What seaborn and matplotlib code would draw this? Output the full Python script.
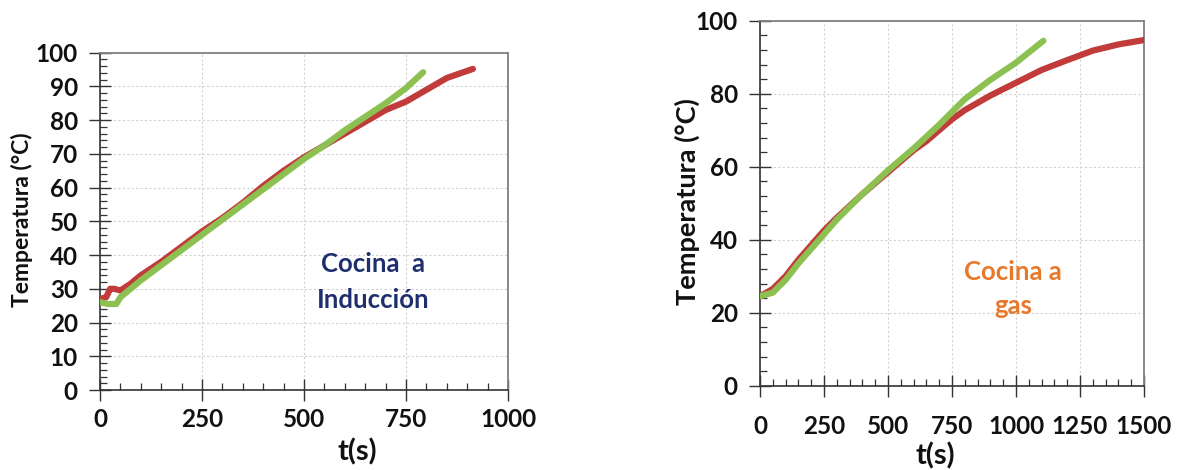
import numpy as np
import pandas as pd
import matplotlib
matplotlib.use("Agg")
import matplotlib.pyplot as plt
import seaborn as sns
from matplotlib.ticker import MultipleLocator

# ---- Data: Cocina a Inducción ----
ind_red_t = [0, 15, 25, 35, 50, 75, 100, 150, 200, 250, 300, 350, 400, 450, 500, 550, 600, 650, 700, 750, 800, 850, 914]
ind_red_T = [27, 27.5, 30, 30, 29.5, 31.5, 34, 38, 42.5, 47, 51, 55.5, 60.5, 65, 69, 72.5, 76, 79.5, 83, 85.5, 89, 92.5, 95.2]
ind_grn_t = [0, 20, 40, 50, 75, 100, 150, 200, 250, 300, 350, 400, 450, 500, 550, 600, 650, 700, 750, 792]
ind_grn_T = [26, 25.5, 25.5, 27.5, 30, 32.5, 37, 41.5, 46, 50.5, 55, 59.5, 64, 68.5, 72.5, 77, 81, 85, 89.5, 94.2]

# ---- Data: Cocina a gas ----
gas_red_t = [0, 50, 100, 150, 200, 250, 300, 400, 500, 600, 650, 700, 750, 800, 900, 1000, 1100, 1200, 1250, 1300, 1400, 1500]
gas_red_T = [24.5, 26.5, 30, 34.5, 38.5, 42.5, 46, 52.5, 58.5, 64.5, 67, 70, 73, 75.5, 79.5, 83, 86.5, 89.2, 90.5, 91.8, 93.5, 94.7]
gas_grn_t = [0, 50, 100, 150, 200, 250, 300, 400, 500, 600, 700, 750, 800, 900, 1000, 1107]
gas_grn_T = [24.5, 25.5, 29, 33.5, 37.5, 41.5, 45.5, 52.5, 59, 65, 71.5, 75, 78.5, 83.8, 88.5, 94.5]

RED = "#c23b3b"
GREEN = "#8cc152"

sns.set_theme(style="white")
plt.rcParams['font.family'] = ['Lato', 'DejaVu Sans']
plt.rcParams['font.weight'] = 'bold'

fig = plt.figure(figsize=(11.99, 4.70), dpi=100)
ax1 = fig.add_axes([100/1199, 80/470, 408/1199, 337.3/470])
ax2 = fig.add_axes([760/1199, 84.3/470, 384/1199, 365/470])

def style(ax, xmax, xmaj, ymaj, yminor, xpad):
    ax.set_xlim(0, xmax)
    ax.set_ylim(0, 100)
    ax.xaxis.set_major_locator(MultipleLocator(xmaj))
    ax.xaxis.set_minor_locator(MultipleLocator(50))
    ax.yaxis.set_major_locator(MultipleLocator(ymaj))
    ax.yaxis.set_minor_locator(MultipleLocator(yminor))
    ax.grid(True, which='major', color='#d2d2d2', linestyle=(0, (2, 2)), linewidth=0.8)
    for s in ['top', 'right']:
        ax.spines[s].set_color('#808080')
        ax.spines[s].set_linewidth(1.3)
    for s in ['left', 'bottom']:
        ax.spines[s].set_color('#333333')
        ax.spines[s].set_linewidth(1.2)
    ax.tick_params(which='major', direction='inout', length=16, width=1.0, color='#333333',
                   labelsize=17.5, pad=8, bottom=True, left=True, labelcolor='#111111')
    ax.tick_params(which='minor', direction='in', length=5, width=0.9, color='#333333',
                   bottom=True, left=True)
    ax.tick_params(axis='x', which='major', pad=xpad)
    for lab in ax.get_xticklabels() + ax.get_yticklabels():
        lab.set_fontweight('bold')

def draw(ax, rt, rT, gt, gT):
    d1 = pd.DataFrame({'t': rt, 'T': rT})
    d2 = pd.DataFrame({'t': gt, 'T': gT})
    sns.lineplot(data=d1, x='t', y='T', ax=ax, color=RED, linewidth=4.5, sort=False, zorder=3)
    sns.lineplot(data=d2, x='t', y='T', ax=ax, color=GREEN, linewidth=4.5, sort=False, zorder=4)

draw(ax1, ind_red_t, ind_red_T, ind_grn_t, ind_grn_T)
draw(ax2, gas_red_t, gas_red_T, gas_grn_t, gas_grn_T)

style(ax1, 1000, 250, 10, 2, 5)
style(ax2, 1500, 250, 20, 4, 13)

for ax in (ax1, ax2):
    ax.set_xlabel('t(s)', fontsize=21, fontweight='bold', color='#111111')
    ax.xaxis.label.set_va('center')
    ax.xaxis.label.set_ha('center')
ax1.xaxis.set_label_coords((357-100)/408, -(452-390)/337.3)
ax2.xaxis.set_label_coords((935-760)/384, -(456-385.7)/365)

ax1.set_ylabel('Temperatura (°C)', fontsize=16.5, fontweight='bold', color='#111111')
ax2.set_ylabel('Temperatura (°C)', fontsize=19.5, fontweight='bold', color='#111111')
for ax in (ax1, ax2):
    ax.yaxis.label.set_va('center')
    ax.yaxis.label.set_ha('center')
ax1.yaxis.set_label_coords(-(100-22)/408, (390-220)/337.3)
ax2.yaxis.set_label_coords(-(760-687)/384, (385.7-202)/365)

ax1.text(669, 32, 'Cocina  a\nInducción', color='#1f2f6e', fontsize=18.5, fontweight='bold',
         ha='center', va='center', linespacing=1.6)
ax2.text(988, 26.5, 'Cocina a\ngas', color='#e8792a', fontsize=18.5, fontweight='bold',
         ha='center', va='center', linespacing=1.5)

fig.savefig('out.png', dpi=100)
